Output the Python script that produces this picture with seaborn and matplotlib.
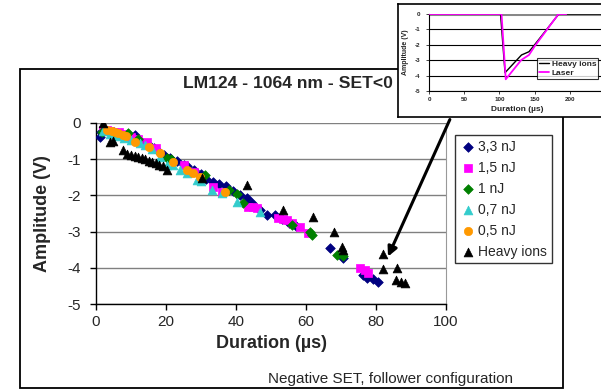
import matplotlib
matplotlib.use("Agg")
import matplotlib.pyplot as plt
import seaborn as sns
import pandas as pd
from matplotlib.patches import Rectangle

# ---------------- data ----------------
e33_x = [1, 1.5, 2.5, 3.5, 5, 6.5, 8, 9.5, 11, 12, 13.5, 15, 16.5, 18, 19.5, 21, 23, 25, 26, 28, 30,
         31.5, 33.5, 35, 37, 39, 41, 43, 44.5, 46.9, 48.8, 51, 53, 55, 57, 66.9, 70.7, 76.3, 77.5, 79.2, 80.7]
e33_y = [-0.38, -0.25, -0.2, -0.22, -0.25, -0.3, -0.35, -0.4, -0.33, -0.45, -0.55, -0.62, -0.7, -0.8, -0.88,
         -0.98, -1.05, -1.15, -1.18, -1.3, -1.4, -1.55, -1.62, -1.68, -1.75, -1.88, -1.98, -2.08, -2.2, -2.4,
         -2.54, -2.55, -2.65, -2.75, -2.85, -3.44, -3.74, -4.2, -4.27, -4.32, -4.38]

e15_x = [2, 3, 4, 5, 6.5, 8, 10, 12, 14.5, 17, 25, 28, 33.5, 35.9, 43.5, 44.9, 46, 52.1, 53.5, 54.5, 56,
         58.3, 60.7, 75.4, 76.8, 77.8]
e15_y = [-0.2, -0.18, -0.22, -0.25, -0.25, -0.3, -0.38, -0.45, -0.52, -0.7, -1.15, -1.35, -1.76, -1.9, -2.31,
         -2.31, -2.35, -2.63, -2.65, -2.68, -2.75, -2.86, -3.04, -4.01, -4.05, -4.15]

e10_x = [1.6, 5, 9.2, 12, 20.2, 21.5, 31, 38, 40.4, 42.1, 55.9, 61.0, 61.6, 68.8, 70.6]
e10_y = [-0.24, -0.28, -0.29, -0.45, -0.98, -1.0, -1.45, -1.85, -1.96, -2.22, -2.82, -3.0, -3.09, -3.65, -3.68]

e07_x = [2, 4, 6, 8, 10, 12.5, 14, 16, 18.3, 20.3, 22, 24, 26, 28.8, 30, 33, 35.9, 40.2, 46.9]
e07_y = [-0.22, -0.3, -0.35, -0.42, -0.48, -0.55, -0.6, -0.72, -0.95, -1.15, -1.15, -1.3, -1.38, -1.57,
         -1.6, -1.85, -1.94, -2.17, -2.45]

e05_x = [3, 4.5, 5.5, 6.4, 7.8, 8.5, 11.1, 15, 18.3, 22.1, 25.9, 27.8, 29.7, 36.9]
e05_y = [-0.2, -0.22, -0.25, -0.29, -0.33, -0.35, -0.52, -0.65, -0.84, -1.07, -1.3, -1.39, -1.48, -1.9]

hi_x = [2.1, 4, 4.8, 7.8, 8.8, 10, 11, 12, 13, 14, 15, 16, 17, 18, 19, 20.2, 30.2, 43, 53.3, 61.9, 68,
        70.2, 70.7, 81.9, 81.9, 85.9, 85.8, 87.1, 88.4]
hi_y = [0, -0.52, -0.5, -0.75, -0.85, -0.88, -0.92, -0.95, -0.98, -1.0, -1.05, -1.08, -1.1, -1.15, -1.18,
        -1.3, -1.53, -1.71, -2.39, -2.61, -3.0, -3.42, -3.5, -3.62, -4.04, -4.0, -4.34, -4.39, -4.41]

series_labels = ["3,3 nJ", "1,5 nJ", "1 nJ", "0,7 nJ", "0,5 nJ", "Heavy ions"]

# inset waveforms
ins_hi_t = [0, 100, 101.6, 108, 131.4, 142, 150, 184.4, 250]
ins_hi_v = [0, 0, 0, -3.81, -2.66, -2.45, -2.0, 0, 0]
ins_la_t = [0, 103, 109, 131, 142, 150, 184, 195]
ins_la_v = [0, 0, -4.24, -2.99, -2.66, -2.1, 0, 0]

# ---------------- style ----------------
sns.set_style("white")
plt.rcParams["font.family"] = ["Liberation Sans", "DejaVu Sans"]
plt.rcParams["axes.unicode_minus"] = False

W, H = 601, 390
fig = plt.figure(figsize=(W / 100, H / 100), dpi=100)

def fx(px):
    return px / W

def fy(py):
    return 1 - py / H

# outer frame
fig.patches.append(Rectangle((fx(20), fy(388)), fx(563) - fx(20), fy(69) - fy(388),
                             transform=fig.transFigure, fill=False, ec="black", lw=1.3, zorder=0))

ax = fig.add_axes([fx(96), fy(304), fx(446) - fx(96), fy(123) - fy(304)])
ax.set_facecolor("none")

styles = [
    (e33_x, e33_y, "#000080", "D", 24),
    (e15_x, e15_y, "#FF00FF", "s", 36),
    (e10_x, e10_y, "#008000", "D", 24),
    (e07_x, e07_y, "#33CCCC", "^", 40),
    (e05_x, e05_y, "#FF9900", "o", 36),
    (hi_x, hi_y, "#000000", "^", 40),
]
for (xs, ys, col, mk, s), lab in zip(styles, series_labels):
    df = pd.DataFrame({"x": xs, "y": ys})
    sns.scatterplot(data=df, x="x", y="y", ax=ax, color=col, marker=mk, s=s,
                    edgecolor=col, linewidth=0.5, label=lab, zorder=3)

ax.set_xlim(0, 100)
ax.set_ylim(-5, 0)
ax.set_xticks([0, 20, 40, 60, 80, 100])
ax.set_yticks([0, -1, -2, -3, -4, -5])
ax.yaxis.grid(True, color="#808080", lw=1.0)
ax.xaxis.grid(False)
ax.set_axisbelow(True)
ax.spines["top"].set_visible(False)
ax.spines["right"].set_color("#999999")
ax.spines["left"].set_color("black")
ax.spines["bottom"].set_color("black")
ax.spines["left"].set_linewidth(1.0)
ax.spines["bottom"].set_linewidth(1.0)
ax.tick_params(axis="both", direction="out", length=4, width=1, color="black",
               labelsize=11, pad=4, left=True, bottom=True)
ax.tick_params(axis="y", pad=7)
ax.set_xlabel("Duration (µs)", fontsize=13, fontweight="bold", labelpad=4)
ax.set_ylabel("Amplitude (V)", fontsize=13, fontweight="bold", labelpad=12)

leg = ax.legend(loc="upper left", bbox_to_anchor=(fx(455), fy(135)), bbox_transform=fig.transFigure,
                fontsize=10, frameon=True, fancybox=False, edgecolor="black",
                handletextpad=0.1, borderpad=0.35, labelspacing=0.5, handlelength=1.2,
                borderaxespad=0)
leg.get_frame().set_linewidth(1.0)

# title
fig.text(fx(183), fy(83), "LM124 - 1064 nm - SET<0", fontsize=12.6, fontweight="bold",
         ha="left", va="center", zorder=2)

# footer
fig.text(fx(390), fy(379), "Negative SET, follower configuration", fontsize=11,
         ha="center", va="center")

# arrow
ax.annotate("", xy=(83.1, -3.76), xycoords="data",
            xytext=(fx(451), fy(117)), textcoords="figure fraction",
            arrowprops=dict(arrowstyle="-|>", color="black", lw=2.2, mutation_scale=14),
            annotation_clip=False, zorder=4)

# inset frame
frame = fig.add_axes([fx(398), fy(117), 0.4, fy(4) - fy(117)], zorder=5)
frame.set_facecolor("white")
frame.set_xticks([])
frame.set_yticks([])
for sp in frame.spines.values():
    sp.set_color("black")
    sp.set_linewidth(1.2)

ins = fig.add_axes([fx(429), fy(91), fx(605) - fx(429), fy(14) - fy(91)], zorder=6)
ins.set_facecolor("white")
ins_df_hi = pd.DataFrame({"t": ins_hi_t, "v": ins_hi_v})
ins_df_la = pd.DataFrame({"t": ins_la_t, "v": ins_la_v})
ins.set_xlim(0, 250)
ins.set_ylim(-5, 0)
ins.set_yticks([0, -1, -2, -3, -4, -5])
ins.set_xticks([0, 50, 100, 150, 200])
ins.yaxis.grid(True, color="black", lw=0.8)
ins.set_axisbelow(True)
ins.axhline(0, color="#888888", lw=2.2, zorder=1)
sns.lineplot(data=ins_df_hi, x="t", y="v", ax=ins, color="black", lw=1.0, label="Heavy ions",
             sort=False, zorder=3)
sns.lineplot(data=ins_df_la, x="t", y="v", ax=ins, color="#FF00FF", lw=1.3, label="Laser",
             sort=False, zorder=4)
ins.spines["top"].set_visible(False)
ins.spines["right"].set_visible(False)
ins.spines["left"].set_color("black")
ins.spines["bottom"].set_color("black")
ins.tick_params(axis="both", direction="out", length=2, width=0.6, labelsize=4.5, pad=2,
                left=True, bottom=True)
ins.tick_params(axis="y", pad=4)
for t in ins.get_xticklabels() + ins.get_yticklabels():
    t.set_fontweight("bold")
ins.set_xlabel("Duration (µs)", fontsize=6, fontweight="bold", labelpad=3)
ins.set_ylabel("Amplitude (V)", fontsize=5, fontweight="bold", labelpad=4)
il = ins.legend(loc="upper left", bbox_to_anchor=(fx(537), fy(58)), bbox_transform=fig.transFigure,
                prop={"size": 6, "weight": "bold"}, frameon=True, fancybox=False,
                edgecolor="black", handlelength=1.2, handletextpad=0.3, borderpad=0.25,
                labelspacing=0.15, borderaxespad=0)
il.get_frame().set_linewidth(0.8)

fig.savefig("out.png", dpi=100)
